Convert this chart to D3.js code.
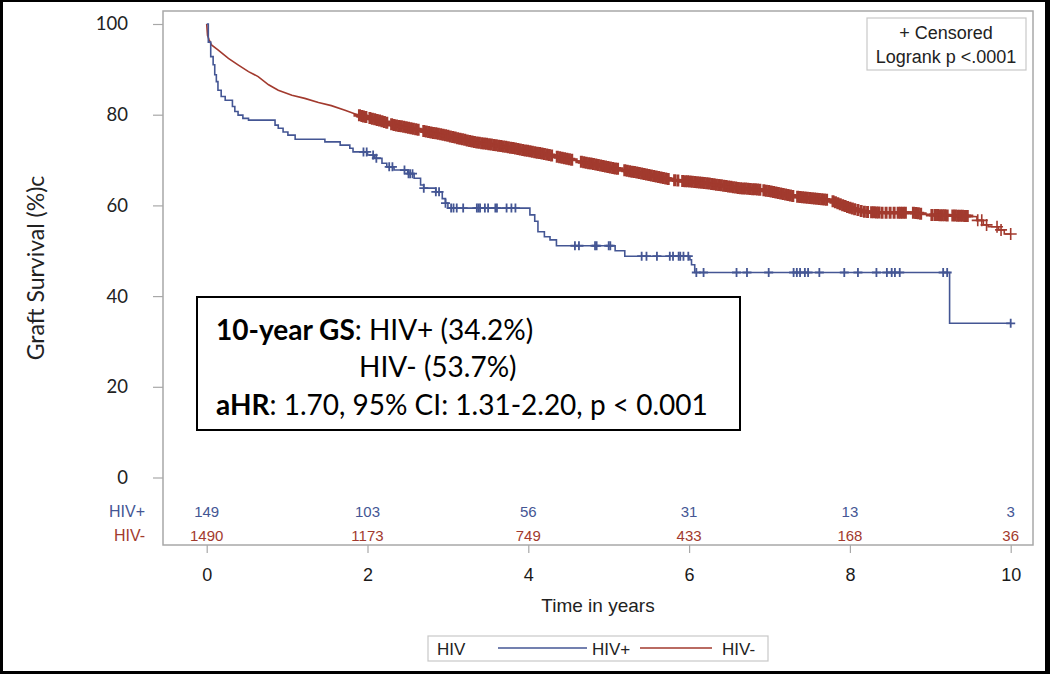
<!DOCTYPE html>
<html>
<head>
<meta charset="utf-8">
<script src="https://cdn.jsdelivr.net/npm/d3@7"></script>
<style>
  html, body { margin: 0; padding: 0; background: #fff; }
  svg { display: block; }
</style>
</head>
<body>
<svg id="chart" width="1050" height="674"></svg>
<script>
// ---------------- data ----------------
const xTicks = [0, 2, 4, 6, 8, 10];
const yTicks = [0, 20, 40, 60, 80, 100];
const groups = ["HIV+", "HIV-"];
const atRiskHIVpos = [149, 103, 56, 31, 13, 3];
const atRiskHIVneg = [1490, 1173, 749, 433, 168, 36];

// HIV+ Kaplan-Meier steps: [time (years), survival % after step]
const survHIVpos = [
  [0, 100], [0.02, 96.0], [0.05, 92.8], [0.08, 91.0], [0.10, 88.8], [0.12, 87.3],
  [0.14, 85.4], [0.18, 84.0], [0.23, 83.2], [0.32, 81.8], [0.35, 80.7], [0.39, 79.9],
  [0.45, 79.2], [0.52, 78.8], [0.85, 77.7], [0.89, 77.0], [0.95, 76.2], [1.01, 75.5],
  [1.10, 74.6], [1.47, 74.0], [1.66, 73.3], [1.78, 72.6], [1.82, 71.8], [2.00, 71.1],
  [2.09, 70.4], [2.18, 69.3], [2.24, 68.5], [2.33, 67.8], [2.50, 67.0], [2.58, 66.0],
  [2.66, 64.5], [2.70, 63.8], [2.85, 63.0], [2.93, 61.5], [2.97, 60.5], [3.00, 59.4],
  [4.02, 57.9], [4.08, 56.5], [4.12, 54.2], [4.20, 53.1], [4.27, 52.4], [4.35, 51.1],
  [5.08, 50.0], [5.20, 48.8], [6.01, 48.0], [6.03, 46.9], [6.07, 45.2], [9.24, 34.0],
  [10.0, 34.0]
];
// HIV- survival curve (many tiny steps, read as points)
const survHIVneg = [
  [0, 100], [0.01, 97.5], [0.03, 96.5], [0.06, 95.4], [0.14, 94.3], [0.27, 92.4],
  [0.39, 91.0], [0.52, 89.5], [0.64, 88.4], [0.77, 86.6], [0.89, 85.4], [1.06, 84.3],
  [1.22, 83.6], [1.39, 82.7], [1.55, 82.0], [1.72, 81.0], [1.89, 79.9], [2.13, 78.8],
  [2.34, 77.7], [2.55, 77.0], [2.76, 76.2], [2.96, 75.5], [3.32, 74.0], [3.73, 72.9],
  [4.15, 71.5], [4.56, 70.0], [4.98, 68.5], [5.39, 67.1], [5.80, 65.6], [6.22, 64.9],
  [6.63, 63.8], [6.92, 63.4], [7.34, 61.9], [7.75, 61.2], [7.96, 59.7], [8.17, 58.6],
  [8.37, 58.4], [8.79, 58.4], [9.00, 57.9], [9.41, 57.7], [9.58, 57.5], [9.58, 56.7],
  [9.66, 56.7], [9.66, 55.7], [9.72, 55.7], [9.72, 55.3], [9.85, 55.3], [9.85, 54.6],
  [9.92, 54.6], [9.92, 53.7], [10.0, 53.7]
];

// censoring times (years)
const censorHIVpos = [
  1.95, 1.99, 2.07, 2.11, 2.27, 2.31, 2.46, 2.51, 2.53, 2.56, 2.70, 2.85, 2.89, 2.97,
  3.04, 3.07, 3.11, 3.19, 3.36, 3.38, 3.40, 3.46, 3.50, 3.59, 3.61, 3.73, 3.79, 3.84,
  4.58, 4.63, 4.83, 4.85, 5.00, 5.02, 5.41, 5.47, 5.60, 5.76, 5.80, 5.87, 5.89, 5.93,
  5.99, 6.09, 6.18, 6.59, 6.72, 6.99, 7.30, 7.34, 7.38, 7.44, 7.48, 7.62, 7.93, 8.10,
  8.33, 8.46, 8.52, 8.56, 8.62, 9.16, 9.21, 10.0
];
const censorHIVneg = [
  1.90, 1.93, 1.95, 1.98, 2.03, 2.06, 2.09, 2.12, 2.15, 2.18, 2.21, 2.24, 2.30, 2.33,
  2.36, 2.39, 2.42, 2.45, 2.48, 2.51, 2.54, 2.57, 2.60, 2.63, 2.70, 2.73, 2.76, 2.79,
  2.82, 2.85, 2.88, 2.91, 2.94, 2.97, 3.00, 3.03, 3.06, 3.09, 3.12, 3.15, 3.18, 3.21,
  3.24, 3.27, 3.30, 3.33, 3.36, 3.39, 3.42, 3.45, 3.48, 3.51, 3.54, 3.57, 3.60, 3.63,
  3.66, 3.69, 3.72, 3.75, 3.78, 3.81, 3.84, 3.87, 3.90, 3.93, 3.96, 3.99, 4.02, 4.05,
  4.08, 4.11, 4.14, 4.17, 4.20, 4.23, 4.26, 4.29, 4.36, 4.39, 4.42, 4.45, 4.48, 4.51,
  4.54, 4.66, 4.69, 4.72, 4.75, 4.78, 4.81, 4.84, 4.87, 4.90, 4.93, 4.96, 4.99, 5.02,
  5.05, 5.08, 5.11, 5.20, 5.23, 5.26, 5.29, 5.32, 5.35, 5.38, 5.41, 5.44, 5.47, 5.50,
  5.53, 5.56, 5.59, 5.62, 5.65, 5.68, 5.71, 5.74, 5.82, 5.86, 5.92, 5.95, 5.98, 6.01,
  6.04, 6.07, 6.10, 6.13, 6.16, 6.19, 6.22, 6.25, 6.28, 6.31, 6.34, 6.37, 6.40, 6.43,
  6.46, 6.49, 6.52, 6.55, 6.58, 6.61, 6.64, 6.67, 6.70, 6.73, 6.76, 6.79, 6.82, 6.85,
  6.88, 6.93, 6.96, 6.99, 7.02, 7.05, 7.08, 7.11, 7.14, 7.17, 7.20, 7.23, 7.26, 7.29,
  7.35, 7.38, 7.41, 7.44, 7.47, 7.50, 7.53, 7.56, 7.59, 7.62, 7.65, 7.68, 7.71, 7.79,
  7.82, 7.85, 7.88, 7.91, 7.94, 7.97, 8.00, 8.03, 8.06, 8.10, 8.14, 8.18, 8.22, 8.27,
  8.30, 8.33, 8.36, 8.40, 8.45, 8.50, 8.55, 8.60, 8.63, 8.66, 8.69, 8.79, 8.82, 8.85,
  8.88, 9.02, 9.06, 9.09, 9.12, 9.15, 9.18, 9.21, 9.28, 9.31, 9.34, 9.37, 9.40, 9.43,
  9.46, 9.59, 9.64, 9.70, 9.83, 9.88, 10.0
];

// ---------------- drawing ----------------
const colPos = "#445694", colNeg = "#A23A2E";
const frameCol = "#a8a8a8";
const sans = "'Liberation Sans', Arial, sans-serif";
const cal = "Lato, 'Open Sans', sans-serif";

const svg = d3.select("#chart");

// outer black border
svg.append("rect").attr("x", 0).attr("y", 0).attr("width", 1050).attr("height", 674).attr("fill", "#000");
svg.append("rect").attr("x", 3).attr("y", 2).attr("width", 1042).attr("height", 669).attr("fill", "#fff");

const frame = {l: 163, t: 11, r: 1033, b: 545};
const x = d3.scaleLinear().domain([0, 10]).range([206.7, 1010.7]);
const y = d3.scaleLinear().domain([0, 100]).range([477.5, 24]);

// frame
svg.append("rect").attr("x", frame.l).attr("y", frame.t)
  .attr("width", frame.r - frame.l).attr("height", frame.b - frame.t)
  .attr("fill", "none").attr("stroke", frameCol).attr("stroke-width", 1.5);

// y axis
const yAxis = svg.append("g").attr("transform", `translate(${frame.l},0)`)
  .call(d3.axisLeft(y).tickValues(yTicks).tickSize(10).tickPadding(25).tickFormat(d3.format("d")));
yAxis.select(".domain").remove();
yAxis.selectAll(".tick line").attr("stroke", frameCol).attr("stroke-width", 1.2);
yAxis.selectAll(".tick text").attr("font-family", cal).attr("font-size", 18.5).attr("fill", "#222");

// x axis
const xAxis = svg.append("g").attr("transform", `translate(0,${frame.b})`)
  .call(d3.axisBottom(x).tickValues(xTicks).tickSize(8).tickPadding(15).tickFormat(d3.format("d")));
xAxis.select(".domain").remove();
xAxis.selectAll(".tick line").attr("stroke", frameCol).attr("stroke-width", 1.2);
xAxis.selectAll(".tick text").attr("font-family", sans).attr("font-size", 18).attr("fill", "#1a1a1a");

// axis titles
svg.append("text").attr("transform", "translate(44,268) rotate(-90)")
  .attr("text-anchor", "middle").attr("font-family", cal).attr("font-size", 23).attr("fill", "#222")
  .text("Graft Survival (%)c");
svg.append("text").attr("x", (frame.l + frame.r) / 2).attr("y", 612)
  .attr("text-anchor", "middle").attr("font-family", sans).attr("font-size", 19).attr("fill", "#222")
  .text("Time in years");

// risk table
const riskRows = [
  {name: groups[0], vals: atRiskHIVpos, col: colPos, yb: 517},
  {name: groups[1], vals: atRiskHIVneg, col: colNeg, yb: 541}
];
riskRows.forEach(r => {
  svg.append("text").attr("x", 145).attr("y", r.yb).attr("text-anchor", "end")
    .attr("font-family", sans).attr("font-size", 16).attr("fill", r.col).text(r.name);
  svg.append("g").selectAll("text").data(r.vals).join("text")
    .attr("x", (d, i) => x(xTicks[i])).attr("y", r.yb).attr("text-anchor", "middle")
    .attr("font-family", sans).attr("font-size", 15).attr("fill", r.col).text(d => d);
});

// curves
const stepLine = d3.line().x(d => x(d[0])).y(d => y(d[1])).curve(d3.curveStepAfter);
const linLine = d3.line().x(d => x(d[0])).y(d => y(d[1]));

function stepAt(pts, t) {
  let v = pts[0][1];
  for (const p of pts) { if (p[0] <= t) v = p[1]; else break; }
  return v;
}
function linAt(pts, t) {
  let i = -1;
  for (let k = 0; k < pts.length; k++) if (pts[k][0] <= t) i = k;
  if (i < 0) return pts[0][1];
  if (i >= pts.length - 1) return pts[pts.length - 1][1];
  const a = pts[i], b = pts[i + 1];
  if (b[0] === a[0]) return b[1];
  return a[1] + (b[1] - a[1]) * (t - a[0]) / (b[0] - a[0]);
}

svg.append("path").datum(survHIVneg).attr("d", linLine)
  .attr("fill", "none").attr("stroke", colNeg).attr("stroke-width", 1.6);
svg.append("path").datum(survHIVpos).attr("d", stepLine)
  .attr("fill", "none").attr("stroke", colPos).attr("stroke-width", 1.6);

function censorMarks(times, valFn, col, hs, sw) {
  const g = svg.append("g").attr("stroke", col).attr("fill", "none");
  g.selectAll("path").data(times).join("path")
    .attr("stroke-width", t => (typeof sw === "function" ? sw(t) : sw))
    .attr("d", t => {
      const cx = x(t), cy = y(valFn(t));
      return `M${cx - hs},${cy}H${cx + hs}M${cx},${cy - hs}V${cy + hs}`;
    });
}
censorMarks(censorHIVneg, t => linAt(survHIVneg, t), colNeg, 6, t => (t > 9.5 ? 1.6 : 3));
censorMarks(censorHIVpos, t => stepAt(survHIVpos, t), colPos, 4.5, 1.8);

// inset legend (top right)
svg.append("rect").attr("x", 867).attr("y", 18).attr("width", 159).attr("height", 52)
  .attr("fill", "#fff").attr("stroke", "#c8c8c8").attr("stroke-width", 1.2);
svg.append("text").attr("x", 946).attr("y", 39).attr("text-anchor", "middle")
  .attr("font-family", sans).attr("font-size", 18).attr("fill", "#222").text("+ Censored");
svg.append("text").attr("x", 946).attr("y", 63).attr("text-anchor", "middle")
  .attr("font-family", sans).attr("font-size", 18).attr("fill", "#222").text("Logrank p <.0001");

// annotation box
svg.append("rect").attr("x", 197).attr("y", 297).attr("width", 543).attr("height", 133)
  .attr("fill", "#fff").attr("stroke", "#000").attr("stroke-width", 2);
const ann = svg.append("g").attr("font-family", cal).attr("font-size", 28).attr("fill", "#000");
const l1 = ann.append("text").attr("x", 216).attr("y", 340);
l1.append("tspan").attr("font-weight", "bold").text("10-year GS");
l1.append("tspan").text(": HIV+ (34.2%)");
ann.append("text").attr("x", 359).attr("y", 377).text("HIV- (53.7%)");
const l3 = ann.append("text").attr("x", 216).attr("y", 415);
l3.append("tspan").attr("font-weight", "bold").text("aHR");
l3.append("tspan").text(": 1.70, 95% CI: 1.31-2.20, p < 0.001");

// bottom legend
svg.append("rect").attr("x", 428).attr("y", 636).attr("width", 340).attr("height", 25)
  .attr("fill", "#fff").attr("stroke", "#c8c8c8").attr("stroke-width", 1.2);
svg.append("text").attr("x", 437).attr("y", 655).attr("font-family", sans).attr("font-size", 17)
  .attr("fill", "#222").text("HIV");
const legItems = [
  {name: groups[0], col: colPos, x0: 498, x1: 587, tx: 592},
  {name: groups[1], col: colNeg, x0: 640, x1: 712, tx: 722}
];
legItems.forEach(it => {
  svg.append("line").attr("x1", it.x0).attr("x2", it.x1).attr("y1", 648).attr("y2", 648)
    .attr("stroke", it.col).attr("stroke-width", 1.6);
  svg.append("text").attr("x", it.tx).attr("y", 655).attr("font-family", sans).attr("font-size", 17)
    .attr("fill", "#222").text(it.name);
});
</script>
</body>
</html>
